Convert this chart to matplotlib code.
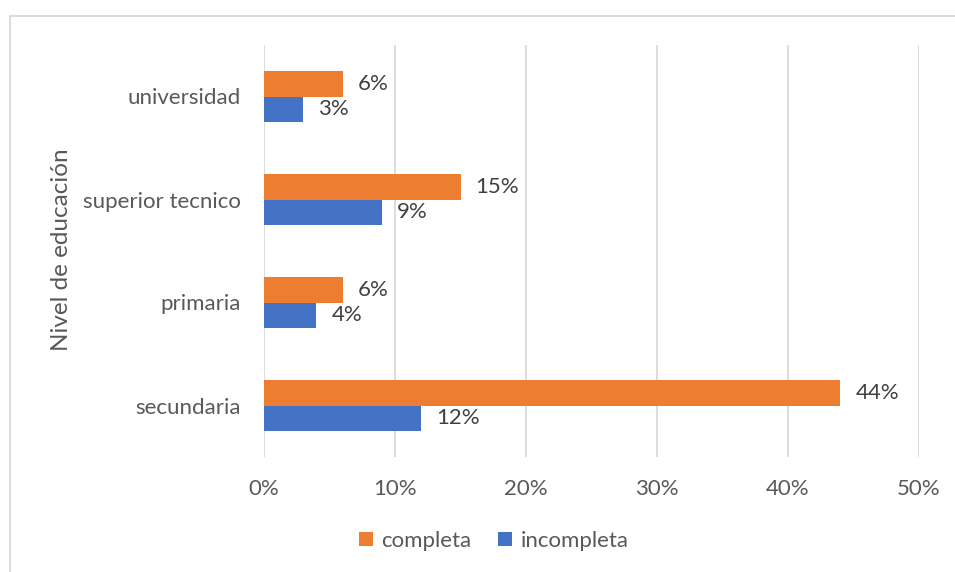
import matplotlib
matplotlib.use("Agg")
import matplotlib.pyplot as plt
import numpy as np
from matplotlib.patches import Rectangle

categories = ["secundaria", "primaria", "superior tecnico", "universidad"]
completa = [44, 6, 15, 6]
incompleta = [12, 4, 9, 3]
xticks = [0, 10, 20, 30, 40, 50]

plt.rcParams['font.family'] = ['Lato', 'DejaVu Sans']

W, H = 955, 572
fig = plt.figure(figsize=(W/100, H/100), dpi=100)
# outer border
fig.patches.append(Rectangle((9.5/W, -0.01), 1.0, (H-15.5)/H + 0.01, transform=fig.transFigure,
                             fill=False, edgecolor='#d9d9d9', linewidth=1.3))

ax = fig.add_axes([264/W, (H-457)/H, (919-264)/W, (457-45)/H])
y = np.arange(len(categories))
h = 0.25
orange = '#ED7D31'
blue = '#4472C4'
ax.barh(y + h/2, completa, height=h, color=orange, label='completa', zorder=3)
ax.barh(y - h/2, incompleta, height=h, color=blue, label='incompleta', zorder=3)

fs = 16
for yi, v in zip(y, completa):
    ax.annotate(f"{v}%", (v, yi + h/2), xytext=(15, 0), textcoords='offset pixels',
                va='center', ha='left', fontsize=fs, color='#404040')
for yi, v in zip(y, incompleta):
    ax.annotate(f"{v}%", (v, yi - h/2), xytext=(15, 0), textcoords='offset pixels',
                va='center', ha='left', fontsize=fs, color='#404040')

ax.set_xlim(0, 50)
ax.set_ylim(-0.5, 3.5)
ax.set_xticks(xticks)
ax.set_xticklabels([f"{t}%" for t in xticks], fontsize=fs, color='#595959')
ax.set_yticks(y)
ax.set_yticklabels(categories, fontsize=fs, color='#595959')
ax.tick_params(axis='both', length=0)
ax.tick_params(axis='x', pad=16)
ax.tick_params(axis='y', pad=17)
ax.grid(axis='x', color='#d9d9d9', linewidth=1.3, zorder=0)
for s in ax.spines.values():
    s.set_visible(False)

fig.text(62/W, 1 - 250/H, "Nivel de educación", rotation=90, ha='center', va='center',
         fontsize=17.5, color='#595959')

handles, labels = ax.get_legend_handles_labels()
fig.legend(handles, labels, loc='center', bbox_to_anchor=(494/W, 1 - 541/H), ncol=2,
           frameon=False, fontsize=fs, labelcolor='#595959', handlelength=0.6, handleheight=0.6,
           handletextpad=0.4, columnspacing=1.2)

fig.savefig("out.png", dpi=100)
